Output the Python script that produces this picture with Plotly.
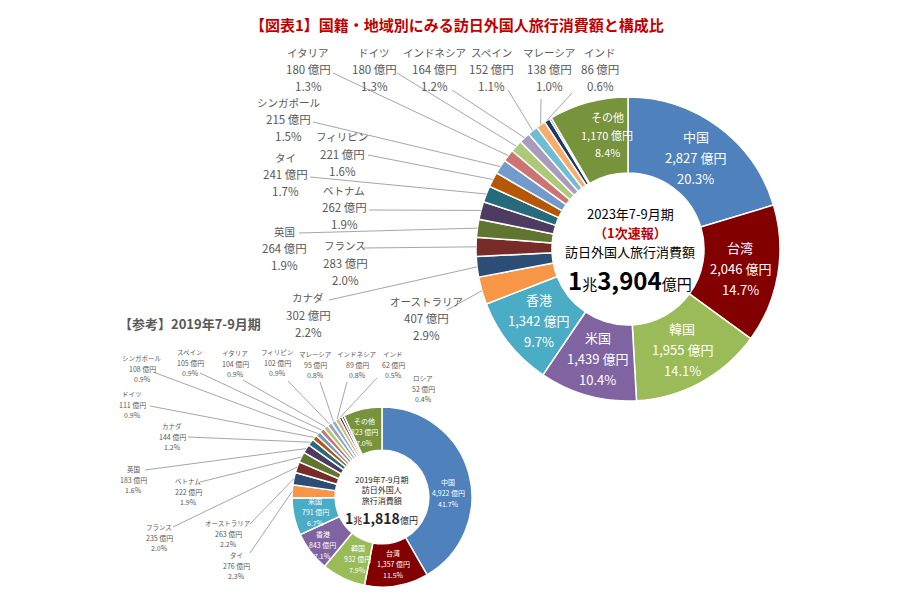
import math
import plotly.graph_objects as go

W, H = 900, 600
FONT = "Noto Sans CJK JP, Noto Sans, sans-serif"

# ---------------- data ----------------
countries_2023 = ["中国", "台湾", "韓国", "米国", "香港", "オーストラリア", "カナダ", "フランス",
                  "英国", "ベトナム", "タイ", "フィリピン", "シンガポール", "イタリア", "ドイツ",
                  "インドネシア", "スペイン", "マレーシア", "インド", "ロシア", "その他"]
values_2023 = [2827, 2046, 1955, 1439, 1342, 407, 302, 283, 264, 262, 241, 221, 215, 180, 180,
               164, 152, 138, 86, 30, 1170]
shares_2023 = [20.3, 14.7, 14.1, 10.4, 9.7, 2.9, 2.2, 2.0, 1.9, 1.9, 1.7, 1.6, 1.5, 1.3, 1.3,
               1.2, 1.1, 1.0, 0.6, 0.2, 8.4]

countries_2019 = ["中国", "台湾", "韓国", "香港", "米国", "タイ", "オーストラリア", "フランス",
                  "ベトナム", "英国", "カナダ", "ドイツ", "シンガポール", "スペイン", "イタリア",
                  "フィリピン", "マレーシア", "インドネシア", "インド", "ロシア", "その他"]
values_2019 = [4922, 1357, 932, 843, 791, 276, 263, 235, 222, 183, 144, 111, 108, 105, 104,
               102, 95, 89, 62, 52, 823]
shares_2019 = [41.7, 11.5, 7.9, 7.1, 6.7, 2.3, 2.2, 2.0, 1.9, 1.6, 1.2, 0.9, 0.9, 0.9, 0.9,
               0.9, 0.8, 0.8, 0.5, 0.4, 7.0]

total_2023 = ("1", "3,904")
total_2019 = ("1", "1,818")

# ---------------- styles / layout ----------------
palette = ["#4F81BD", "#820000", "#9BBB59", "#8064A2", "#4BACC6", "#F79646", "#2C4D75",
           "#772C2A", "#5F7530", "#4D3B62", "#276A7C", "#B65708", "#729ACA", "#CD7371",
           "#AFC97A", "#A99BBD", "#6FBDD3", "#F9AB6B", "#203864", "#8B3A38", "#77933C"]

big = dict(cx=628, cy=249, r=152, hole=0.5)
small = dict(cx=382, cy=497, r=90, hole=0.52)

inside_2023 = ["中国", "台湾", "韓国", "米国", "香港", "その他"]
inside_2019 = ["中国", "台湾", "韓国", "香港", "米国", "その他"]
inside_nudge_2023 = {"その他": (9, -4)}
inside_nudge_2019 = {"中国": (0, 14), "香港": (-5, 6), "韓国": (5, 0), "その他": (-3, 2)}

# outside labels: (text x, first line y, leader start x, leader start y)
outside_2023 = {
    "イタリア": (308, 52, 333, 73),
    "ドイツ": (374, 52, 397, 73),
    "インドネシア": (434, 52, 452, 90),
    "スペイン": (491, 52, 508, 90),
    "マレーシア": (549, 52, 541, 99),
    "インド": (600, 52, 572, 93),
    "シンガポール": (288, 102, 313, 122),
    "フィリピン": (342, 137, 368, 155),
    "タイ": (285, 157, 310, 177),
    "ベトナム": (344, 190, 369, 210),
    "英国": (284, 231, 299, 233),
    "フランス": (345, 246, 364, 248),
    "カナダ": (308, 298, 329, 300),
    "オーストラリア": (426, 301, 447, 310),
}
outside_2019 = {
    "シンガポール": (142, 358, 153, 372),
    "スペイン": (190, 352, 200, 373),
    "イタリア": (235, 353, 243, 380),
    "フィリピン": (277, 352, 288, 381),
    "マレーシア": (315, 354, 320, 382),
    "インドネシア": (357, 354, 347, 382),
    "インド": (393, 354, 377, 378),
    "ロシア": (423, 378, None, None),
    "ドイツ": (132, 394, 150, 406),
    "カナダ": (172, 426, 188, 437),
    "英国": (133, 469, 145, 470),
    "ベトナム": (188, 481, 200, 482),
    "フランス": (159, 527, 173, 527),
    "オーストラリア": (228, 523, 250, 524),
    "タイ": (237, 555, 250, 553),
}

GREY = "#595959"
LINE_GREY = "#A6A6A6"

annotations = []
shapes = []


def px(x, y):
    return x / W, 1 - y / H


def add_text(x, y, text, size, color, bold=False):
    ax, ay = px(x, y)
    if bold:
        text = "<b>" + text + "</b>"
    annotations.append(dict(x=ax, y=ay, xref="paper", yref="paper", text=text,
                            showarrow=False, xanchor="center", yanchor="middle",
                            borderpad=0, borderwidth=0,
                            font=dict(size=size, color=color, family=FONT)))


def mid_angles(values):
    tot = sum(values)
    out, cum = [], 0
    for v in values:
        out.append(2 * math.pi * (cum + v / 2) / tot)
        cum += v
    return out


def fmt(v):
    return f"{v:,} 億円"


def pie_trace(names, values, g):
    r = g["r"]
    dx = [(g["cx"] - r) / W, (g["cx"] + r) / W]
    dy = [1 - (g["cy"] + r) / H, 1 - (g["cy"] - r) / H]
    return go.Pie(labels=names, values=values, hole=g["hole"], sort=False,
                  direction="clockwise", rotation=0, textinfo="none",
                  marker=dict(colors=palette[:len(values)], line=dict(color="white", width=1.5)),
                  domain=dict(x=dx, y=dy), showlegend=False)


def add_labels(names, values, shares, g, inside, nudge, outside, fs_in, sp_in, fs_out, sp_out,
               other_fs=None, other_sp=None):
    angs = mid_angles(values)
    rin = g["r"] * g["hole"]
    rmid = (g["r"] + rin) / 2
    for n, v, s, a in zip(names, values, shares, angs):
        lines = [n, fmt(v), f"{s:.1f}%"]
        if n in inside:
            x = g["cx"] + rmid * math.sin(a)
            y = g["cy"] - rmid * math.cos(a)
            ddx, ddy = nudge.get(n, (0, 0))
            x += ddx
            y += ddy
            fs, sp = fs_in, sp_in
            if n == "その他" and other_fs:
                fs, sp = other_fs, other_sp
            for k, t in enumerate(lines):
                add_text(x, y + (k - 1) * sp, t, fs, "white")
        elif n in outside:
            tx, ty, lx, ly = outside[n]
            for k, t in enumerate(lines):
                add_text(tx, ty + k * sp_out, t, fs_out[0] if k == 0 else fs_out[1], GREY)
            if lx is not None:
                ex = g["cx"] + g["r"] * math.sin(a)
                ey = g["cy"] - g["r"] * math.cos(a)
                x0, y0 = px(lx, ly)
                x1, y1 = px(ex, ey)
                shapes.append(dict(type="line", xref="paper", yref="paper", x0=x0, y0=y0,
                                   x1=x1, y1=y1, line=dict(color=LINE_GREY, width=1)))


fig = go.Figure()
fig.add_trace(pie_trace(countries_2023, values_2023, big))
fig.add_trace(pie_trace(countries_2019, values_2019, small))

add_labels(countries_2023, values_2023, shares_2023, big, inside_2023, inside_nudge_2023,
           outside_2023, 13, 21, (10.5, 11.5), 17, other_fs=11, other_sp=17.5)
add_labels(countries_2019, values_2019, shares_2019, small, inside_2019, inside_nudge_2019,
           outside_2019, 7, 11, (6.5, 7), 10.5)

# titles
add_text(457, 25, "【図表1】国籍・地域別にみる訪日外国人旅行消費額と構成比", 15, "#C00000", bold=True)
add_text(190, 323, "【参考】2019年7-9月期", 13, GREY, bold=True)

# center of big donut
add_text(630, 213.5, "2023年7-9月期", 13, "#000000")
add_text(630, 233, "（1次速報）", 13, "#C00000", bold=True)
add_text(630, 252, "訪日外国人旅行消費額", 13, "#000000")
add_text(630, 279,
         f"<b>{total_2023[0]}</b><span style='font-size:15px'>兆</span><b>{total_2023[1]}</b>"
         f"<span style='font-size:15px'>億円</span>", 24, "#000000")

# center of small donut
add_text(381, 490, "2019年7-9月期<br>訪日外国人<br>旅行消費額", 8, "#262626")
add_text(381, 517.5,
         f"<b>{total_2019[0]}</b><span style='font-size:9px'>兆</span><b>{total_2019[1]}</b>"
         f"<span style='font-size:9px'>億円</span>", 14, "#262626")

fig.update_layout(width=W, height=H, margin=dict(l=0, r=0, t=0, b=0),
                  paper_bgcolor="white", plot_bgcolor="white",
                  annotations=annotations, shapes=shapes,
                  font=dict(family=FONT))
fig.write_html("out.html")
